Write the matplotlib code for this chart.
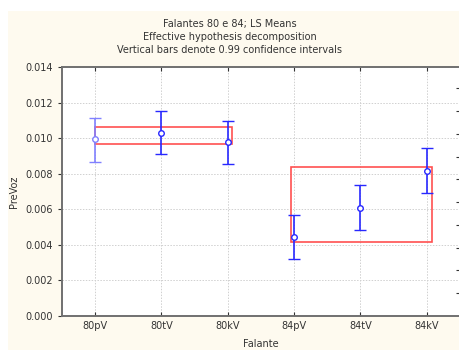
import matplotlib.pyplot as plt
from matplotlib.patches import Rectangle

W, H = 459, 350

categories = ["80pV", "80tV", "80kV", "84pV", "84tV", "84kV"]
means = [0.00994, 0.01031, 0.00977, 0.00442, 0.00609, 0.00817]
upper = [0.01113, 0.01154, 0.01096, 0.00566, 0.00735, 0.00945]
lower = [0.00868, 0.00909, 0.00853, 0.00319, 0.00484, 0.00693]

# hypothesis boxes: x from, x to, y low, y high
box_x0 = [0.0, 2.955]
box_x1 = [2.06, 5.075]
box_lo = [0.00965, 0.00414]
box_hi = [0.01063, 0.00839]

fig = plt.figure(figsize=(W / 100, H / 100), dpi=100)
fig.patch.set_facecolor("white")
fig.patches.append(Rectangle((8 / W, 0), 1, 1 - 11 / H, transform=fig.transFigure,
                             facecolor="#fefaef", edgecolor="none", zorder=-10))

ax = fig.add_axes([61.7 / W, 1 - 316 / H, (460 - 61.7) / W, (316 - 67) / H])
ax.set_facecolor("white")

x = list(range(len(categories)))
for i in x:
    col = "#8080ff" if i == 0 else "#2828ff"
    ax.errorbar(i, means[i], yerr=[[means[i] - lower[i]], [upper[i] - means[i]]],
                fmt="o", color=col, mfc="white", mec=col, ms=4, mew=1,
                elinewidth=1.2, capsize=4, capthick=1.2, zorder=4)

for x0, x1, lo, hi in zip(box_x0, box_x1, box_lo, box_hi):
    ax.add_patch(Rectangle((x0, lo), x1 - x0, hi - lo, fill=False,
                           edgecolor="#ff5050", lw=1.2, zorder=3))

ax.set_xlim(-0.5, 5.5)
ax.set_ylim(0, 0.014)
ax.set_xticks(x)
ax.set_xticklabels(categories)
ax.set_yticks([i * 0.002 for i in range(8)])
ax.set_yticklabels(["%.3f" % (i * 0.002) for i in range(8)])
ax.tick_params(labelsize=7, colors="#333333", length=3, width=0.8)
ax.tick_params(axis="x", top=True, direction="in", length=3)
ax.tick_params(axis="y", direction="out")
ax.grid(True, color="#d0d0d0", ls=(0, (1.5, 1.5)), lw=0.7)
ax.set_axisbelow(True)

ax2 = ax.twinx()
ax2.set_ylim(0, 0.014)
ax2.set_yticks([k * 0.00128 for k in range(1, 11)])
ax2.set_yticklabels([])
ax2.tick_params(axis="y", direction="in", length=3, width=0.8, colors="#333333")

for a in (ax, ax2):
    for s in a.spines.values():
        s.set_color("#707070")
        s.set_linewidth(1.2)

ax.set_xlabel("Falante", fontsize=7, color="#333333", labelpad=6)
ax.set_ylabel("PreVoz", fontsize=7, color="#333333", labelpad=4)

fig.text(0.5, 1 - 24 / H, "Falantes 80 e 84; LS Means", ha="center", va="center",
         fontsize=7, color="#333333")
fig.text(0.5, 1 - 37 / H, "Effective hypothesis decomposition", ha="center", va="center",
         fontsize=7, color="#333333")
fig.text(0.5, 1 - 50 / H, "Vertical bars denote 0.99 confidence intervals", ha="center",
         va="center", fontsize=7, color="#333333")

fig.savefig("out.png", dpi=100, facecolor=fig.get_facecolor())
